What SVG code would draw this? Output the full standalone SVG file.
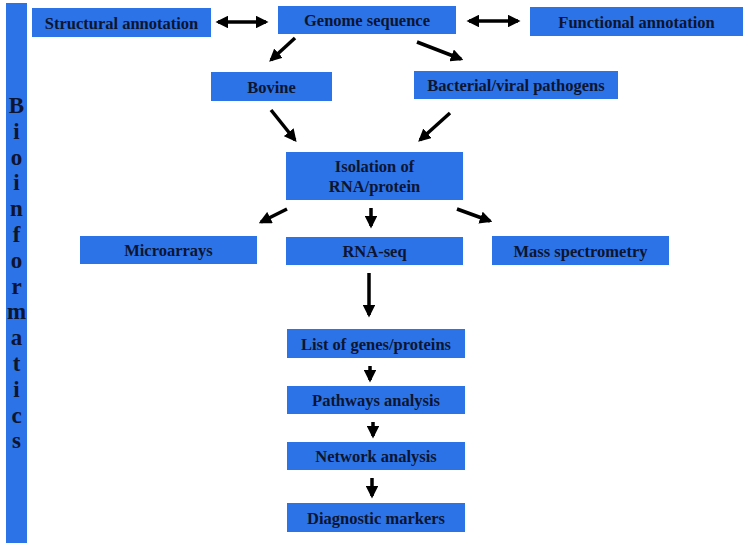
<svg xmlns="http://www.w3.org/2000/svg" width="747" height="547" viewBox="0 0 747 547">
<defs>
<style>
.box{fill:#2B73E6;}
.t{font-family:"Liberation Serif","Times New Roman",serif;font-weight:bold;font-size:16.5px;fill:#0E1530;text-anchor:middle;}
.v{font-family:"Liberation Serif","Times New Roman",serif;font-weight:bold;font-size:23px;fill:#0E1530;text-anchor:middle;}
.a{stroke:#000;stroke-width:3.5;fill:none;}
</style>
<marker id="ah" viewBox="0 0 10 10" refX="8" refY="5" markerWidth="3.6" markerHeight="3.6" orient="auto-start-reverse">
<path d="M0,0 L10,5 L0,10 Z" fill="#000"/>
</marker>
</defs>
<rect width="747" height="547" fill="#fff"/>
<g id="bioinformatics">
<rect class="box" x="6" y="3" width="21" height="540"/>
<text class="v" x="16.5" y="113">B</text>
<text class="v" x="16.5" y="138.8">i</text>
<text class="v" x="16.5" y="164.6">o</text>
<text class="v" x="16.5" y="190.4">i</text>
<text class="v" x="16.5" y="216.2">n</text>
<text class="v" x="16.5" y="242">f</text>
<text class="v" x="16.5" y="267.8">o</text>
<text class="v" x="16.5" y="293.6">r</text>
<text class="v" x="16.5" y="319.4">m</text>
<text class="v" x="16.5" y="345.2">a</text>
<text class="v" x="16.5" y="371">t</text>
<text class="v" x="16.5" y="396.8">i</text>
<text class="v" x="16.5" y="422.6">c</text>
<text class="v" x="16.5" y="448.4">s</text>
</g>
<g id="structural">
<rect class="box" x="32" y="8" width="179" height="29"/>
<text class="t" x="121.5" y="28.5">Structural annotation</text>
</g>
<g id="genome">
<rect class="box" x="278" y="6" width="178" height="28"/>
<text class="t" x="367" y="26">Genome sequence</text>
</g>
<g id="functional">
<rect class="box" x="530" y="7" width="213" height="29"/>
<text class="t" x="636.5" y="27.5">Functional annotation</text>
</g>
<g id="bovine">
<rect class="box" x="211" y="72" width="121" height="29"/>
<text class="t" x="271.5" y="92.5">Bovine</text>
</g>
<g id="pathogens">
<rect class="box" x="414" y="71" width="204" height="28"/>
<text class="t" x="516" y="91">Bacterial/viral pathogens</text>
</g>
<g id="isolation">
<rect class="box" x="286" y="152" width="177" height="48"/>
<text class="t" x="374.5" y="172">Isolation of</text>
<text class="t" x="374.5" y="192">RNA/protein</text>
</g>
<g id="microarrays">
<rect class="box" x="80" y="236" width="177" height="28"/>
<text class="t" x="168.5" y="256">Microarrays</text>
</g>
<g id="rnaseq">
<rect class="box" x="286" y="237" width="177" height="28"/>
<text class="t" x="374.5" y="257">RNA-seq</text>
</g>
<g id="mass">
<rect class="box" x="492" y="236" width="177" height="29"/>
<text class="t" x="580.5" y="256.5">Mass spectrometry</text>
</g>
<g id="list">
<rect class="box" x="287" y="329" width="178" height="29"/>
<text class="t" x="376" y="349.5">List of genes/proteins</text>
</g>
<g id="pathways">
<rect class="box" x="287" y="386" width="178" height="28"/>
<text class="t" x="376" y="406">Pathways analysis</text>
</g>
<g id="network">
<rect class="box" x="287" y="442" width="178" height="28"/>
<text class="t" x="376" y="462">Network analysis</text>
</g>
<g id="diagnostic">
<rect class="box" x="287" y="503" width="178" height="29"/>
<text class="t" x="376" y="523.5">Diagnostic markers</text>
</g>
<g id="connectors">
<line class="a" x1="218" y1="22" x2="266" y2="22" marker-start="url(#ah)" marker-end="url(#ah)"/>
<line class="a" x1="469" y1="21" x2="518" y2="21" marker-start="url(#ah)" marker-end="url(#ah)"/>
<line class="a" x1="295" y1="38" x2="271" y2="60" marker-end="url(#ah)"/>
<line class="a" x1="417" y1="42" x2="461" y2="59" marker-end="url(#ah)"/>
<line class="a" x1="271" y1="110" x2="295" y2="140" marker-end="url(#ah)"/>
<line class="a" x1="450" y1="113" x2="420" y2="140" marker-end="url(#ah)"/>
<line class="a" x1="287" y1="209" x2="261" y2="222" marker-end="url(#ah)"/>
<line class="a" x1="371" y1="208" x2="371" y2="226" marker-end="url(#ah)"/>
<line class="a" x1="457" y1="209" x2="490" y2="221" marker-end="url(#ah)"/>
<line class="a" x1="369" y1="273" x2="369" y2="315" marker-end="url(#ah)"/>
<line class="a" x1="370" y1="366" x2="370" y2="380" marker-end="url(#ah)"/>
<line class="a" x1="373" y1="422" x2="373" y2="436" marker-end="url(#ah)"/>
<line class="a" x1="372" y1="478" x2="372" y2="496" marker-end="url(#ah)"/>
</g>
</svg>
